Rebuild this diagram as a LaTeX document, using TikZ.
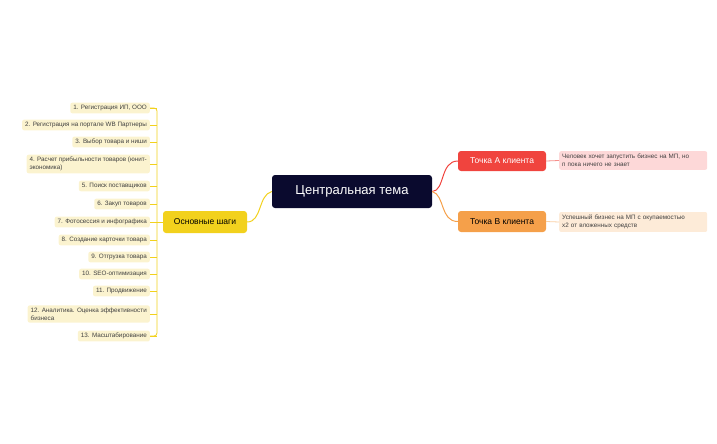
\documentclass[tikz,border=0pt]{standalone}
\usepackage{fontspec}
\setmainfont{Liberation Sans}
\definecolor{navy}{HTML}{0A0A2E}
\definecolor{yel}{HTML}{F2D11D}
\definecolor{leaf}{HTML}{FBF3CF}
\definecolor{reda}{HTML}{F0443E}
\definecolor{orb}{HTML}{F5A04A}
\definecolor{pinkd}{HTML}{FDD8D8}
\definecolor{orad}{HTML}{FDEBD8}
\begin{document}
\begin{tikzpicture}[x=1pt,y=-1pt,
 leafn/.style={fill=leaf,rounded corners=2pt,anchor=east,inner xsep=3pt,inner ysep=2.5pt,font=\fontsize{6.3}{7.6}\selectfont,text=black!75,align=left},
 br/.style={draw=yel,line width=0.8pt},
 desc/.style={rounded corners=2pt,anchor=west,inner xsep=3pt,inner ysep=3pt,font=\fontsize{6.3}{8}\selectfont,text=black!75,align=left,text width=142pt}]
\useasboundingbox (0,0) rectangle (717,444);
\node[fill=navy,rounded corners=3pt,minimum width=160pt,minimum height=33pt,text=white,font=\fontsize{13}{15}\selectfont] (c) at (352,191.5) {Центральная тема};
\node[fill=yel,rounded corners=3pt,minimum width=84pt,minimum height=22pt,font=\fontsize{8.5}{10}\selectfont] (s) at (205,222) {Основные шаги};
\node[fill=reda,rounded corners=3pt,minimum width=88pt,minimum height=20pt,text=white,font=\fontsize{8.5}{10}\selectfont] (a) at (502,161) {Точка А клиента};
\node[fill=orb,rounded corners=3pt,minimum width=88pt,minimum height=21pt,font=\fontsize{8.5}{10}\selectfont] (b) at (502,221.5) {Точка В клиента};
\node[desc,fill=pinkd] (ad) at (559,160.5) {Человек хочет запустить бизнес на МП, но\\п пока ничего не знает};
\node[desc,fill=orad] (bd) at (559,222) {Успешный бизнес на МП с окупаемостью\\х2 от вложенных средств};
\draw[reda,line width=1pt] (c.east) .. controls (445,191) and (440,161) .. (a.west);
\draw[orb,line width=1pt] (c.east) .. controls (445,195) and (440,221.5) .. (b.west);
\draw[yel,line width=1pt] (c.west) .. controls (258,195) and (262,222) .. (s.east);
\draw[reda!60,line width=0.8pt] (a.east) -- (ad.west);
\draw[orb!50,line width=0.8pt] (b.east) -- (bd.west);
\coordinate (j) at (157,222);
\draw[br] (s.west) -- (j);
\foreach \n/\y/\t in {1/108/{1. Регистрация ИП, ООО},2/125/{2. Регистрация на портале WB Партнеры},3/142/{3. Выбор товара и ниши},4/164/{4. Расчет прибыльности товаров (юнит-\\экономика)},5/186/{5. Поиск поставщиков},6/204/{6. Закуп товаров},7/222/{7. Фотосессия и инфографика},8/240/{8. Создание карточки товара},9/257/{9. Отгрузка товара},10/274/{10. SEO-оптимизация},11/291/{11. Продвижение},12/314/{12. Аналитика. Оценка эффективности\\бизнеса},13/336/{13. Масштабирование}}{
 \node[leafn] (l\n) at (150,\y) {\t};
 \coordinate (t\n) at (157,\y);
 \draw[br] (l\n.east) -- (t\n);
}
\draw[br,rounded corners=3pt] (l1.east) -- (t1) -- (t13) -- (l13.east);
\end{tikzpicture}
\end{document}
